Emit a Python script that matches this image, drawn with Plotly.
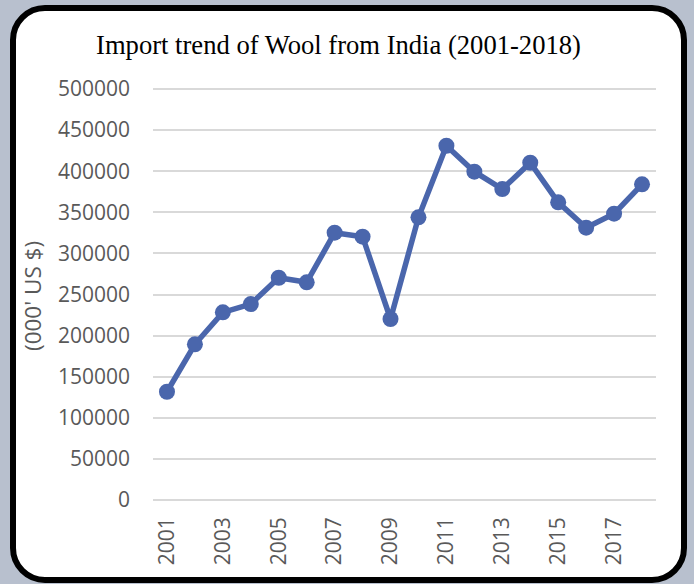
import plotly.graph_objects as go

# ---- data ----
years = list(range(2001, 2019))
import_values = [131700, 189400, 228300, 238400, 270400, 264800, 325200, 320300, 220200,
                 343900, 431000, 399400, 378300, 410300, 362100, 331300, 348300, 384000]
y_tick_vals = [0, 50000, 100000, 150000, 200000, 250000, 300000, 350000, 400000, 450000, 500000]
x_tick_vals = [2001, 2003, 2005, 2007, 2009, 2011, 2013, 2015, 2017]
chart_title = "Import trend of Wool from India (2001-2018)"
y_title = "(000' US $)"

# ---- layout geometry (pixels) ----
W, H = 694, 584
PAD = 2  # extend plot area slightly so the end gridlines are drawn
L, R, T, B = 153, 656, 89 - PAD, 500 + PAD
units_per_px = 500000 / 411.0
y_range = [-PAD * units_per_px, 500000 + PAD * units_per_px]


def px(x):
    return (x - L) / (R - L)


def py(y):
    return (B - y) / (B - T)


def rounded_path(x0, y0, x1, y1, r):
    k = 0.5523 * r
    segs = [
        ("M", [(x0 + r, y0)]),
        ("L", [(x1 - r, y0)]),
        ("C", [(x1 - r + k, y0), (x1, y0 + r - k), (x1, y0 + r)]),
        ("L", [(x1, y1 - r)]),
        ("C", [(x1, y1 - r + k), (x1 - r + k, y1), (x1 - r, y1)]),
        ("L", [(x0 + r, y1)]),
        ("C", [(x0 + r - k, y1), (x0, y1 - r + k), (x0, y1 - r)]),
        ("L", [(x0, y0 + r)]),
        ("C", [(x0, y0 + r - k), (x0 + r - k, y0), (x0 + r, y0)]),
    ]
    out = []
    for cmd, pts in segs:
        out.append(cmd + " ".join(f"{px(a):.5f},{py(b):.5f}" for a, b in pts))
    return " ".join(out) + " Z"


tick_font = dict(family="Open Sans, Liberation Sans, sans-serif", size=21, color="#595959")
ytitle_font = dict(family="Open Sans, Liberation Sans, sans-serif", size=22.5, color="#595959")

fig = go.Figure()
fig.add_trace(go.Scatter(
    x=years, y=import_values, mode="lines+markers",
    line=dict(color="#4A66AC", width=5.5),
    marker=dict(color="#4A66AC", size=16),
    showlegend=False, cliponaxis=False,
))

fig.update_layout(
    width=W, height=H,
    margin=dict(l=L, r=W - R, t=T, b=H - B, pad=0),
    paper_bgcolor="#B8C0CE",
    plot_bgcolor="rgba(0,0,0,0)",
    title=dict(text=chart_title, x=338.5 / W, xanchor="center", y=1 - 45 / H, yanchor="middle",
               yref="container", xref="container",
               font=dict(family="Liberation Serif, Times New Roman, serif", size=26.6, color="#000000")),
    xaxis=dict(range=[2000.5, 2018.5], tickmode="array", tickvals=x_tick_vals,
               ticktext=[str(v) for v in x_tick_vals], tickangle=-90,
               showgrid=False, zeroline=False, showline=False, ticks="",
               tickfont=tick_font, ticklabelstandoff=10),
    yaxis=dict(range=y_range, tickmode="array", tickvals=y_tick_vals,
               ticktext=[str(v) for v in y_tick_vals],
               showgrid=True, gridcolor="#D9D9D9", gridwidth=1.5,
               zeroline=False, showline=False, ticks="",
               tickfont=tick_font, ticklabelstandoff=22),
    shapes=[dict(type="path", xref="paper", yref="paper", layer="below",
                 path=rounded_path(13, 8, 684, 580, 32),
                 fillcolor="#FFFFFF", line=dict(color="#000000", width=6))],
    annotations=[dict(text=y_title, xref="paper", yref="paper", x=px(32), y=py(296),
                      xanchor="center", yanchor="middle", textangle=-90, showarrow=False,
                      font=ytitle_font)],
)

fig.write_html(
    "out.html",
    config={"displayModeBar": False},
    post_script="document.body.style.margin='0';document.body.style.overflow='hidden';"
                "document.body.style.background='#B8C0CE';",
)
